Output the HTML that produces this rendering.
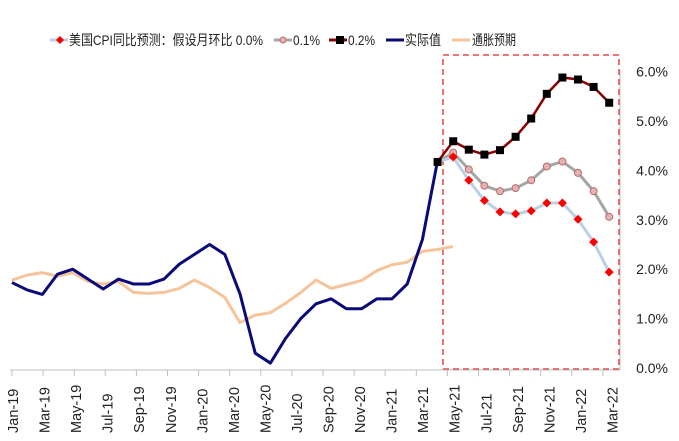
<!DOCTYPE html>
<html><head><meta charset="utf-8"><style>
body{margin:0;background:#fff;}
svg{display:block;font-family:"Liberation Sans","Noto Sans CJK SC",sans-serif;}
</style></head><body>
<svg id="chart" width="679" height="441" viewBox="0 0 679 441">
<g id="legend">
 <g>
  <line x1="50" y1="40" x2="68" y2="40" stroke="#b8cfe6" stroke-width="3"/>
  <polygon points="60,36 64,40 60,44 56,40" fill="#f00"/>
  <text x="69" y="45" font-size="14" fill="#222" textLength="194" lengthAdjust="spacingAndGlyphs">美国CPI同比预测：假设月环比 0.0%</text>
 </g>
 <g>
  <line x1="274" y1="40" x2="292" y2="40" stroke="#a6a6a6" stroke-width="3"/>
  <circle cx="283" cy="40" r="3" fill="#e8b0b0" stroke="#b07070" stroke-width="1"/>
  <text x="293" y="45" font-size="14" fill="#222" textLength="27" lengthAdjust="spacingAndGlyphs">0.1%</text>
 </g>
 <g>
  <line x1="329" y1="40" x2="347" y2="40" stroke="#8b0000" stroke-width="3"/>
  <rect x="336" y="36" width="8" height="8" fill="#000"/>
  <text x="348" y="45" font-size="14" fill="#222" textLength="27" lengthAdjust="spacingAndGlyphs">0.2%</text>
 </g>
 <g>
  <line x1="386" y1="40" x2="404" y2="40" stroke="#0a0a78" stroke-width="3"/>
  <text x="405" y="45" font-size="14" fill="#222" textLength="36" lengthAdjust="spacingAndGlyphs">实际值</text>
 </g>
 <g>
  <line x1="452" y1="40" x2="470" y2="40" stroke="#f6c49a" stroke-width="3"/>
  <text x="472" y="45" font-size="14" fill="#222" textLength="44" lengthAdjust="spacingAndGlyphs">通胀预期</text>
 </g>
</g>
<rect x="443" y="55" width="176" height="314" fill="none" stroke="#e8242b" stroke-width="1.3" stroke-dasharray="6,4"/>
<line x1="10" y1="370" x2="620" y2="370" stroke="#bfbfbf"/>
<line x1="620" y1="70" x2="620" y2="370" stroke="#bfbfbf"/>
<g id="xticks"></g><g id="yticks"></g><g id="series"></g>
</svg>
<script>
const xLabels=["Jan-19","Mar-19","May-19","Jul-19","Sep-19","Nov-19","Jan-20","Mar-20","May-20","Jul-20","Sep-20","Nov-20","Jan-21","Mar-21","May-21","Jul-21","Sep-21","Nov-21","Jan-22","Mar-22"];
const yTicks=[0,1,2,3,4,5,6];
const actual=[1.73,1.58,1.49,1.9,2.0,1.8,1.6,1.8,1.7,1.7,1.8,2.1,2.3,2.5,2.3,1.5,0.3,0.1,0.6,1.0,1.3,1.4,1.2,1.2,1.4,1.4,1.7,2.6,4.2];
const expectation=[1.78,1.88,1.93,1.86,1.93,1.75,1.7,1.75,1.53,1.51,1.53,1.61,1.78,1.63,1.43,0.92,1.07,1.12,1.31,1.53,1.78,1.61,1.69,1.77,1.97,2.09,2.14,2.36,2.4,2.46];
const fc0=[4.17,4.27,3.8,3.39,3.16,3.12,3.18,3.34,3.34,3.01,2.55,1.94];
const fc1=[4.17,4.36,4.02,3.69,3.58,3.64,3.8,4.08,4.18,3.95,3.58,3.06];
const fc2=[4.17,4.59,4.42,4.32,4.41,4.68,5.05,5.55,5.88,5.84,5.69,5.37];
const NS="http://www.w3.org/2000/svg";
const X=i=>12+i*15.2;
const XF=j=>X(28)+j*15.6;
const Y=v=>368-v*49.4;
function mk(tag,attrs,parent){const e=document.createElementNS(NS,tag);for(const k in attrs)e.setAttribute(k,attrs[k]);parent.appendChild(e);return e;}
const xt=document.getElementById('xticks');
xLabels.forEach((l,k)=>{
 const tx=12+k*31.1;
 const t=mk('line',{x1:tx,y1:370,x2:tx,y2:376,stroke:'#bfbfbf'},xt);
 
 
 const x=12+k*31.55+6;
 const tt=mk('text',{x:x,y:433,'font-size':14.5,fill:'#222',transform:`rotate(-90 ${x} 433)`},xt);
 tt.textContent=l;
 
 
});
const yt=document.getElementById('yticks');
yTicks.forEach(v=>{
 const t=mk('text',{x:668,y:Y(v)+5,'font-size':14,fill:'#222','text-anchor':'end'},yt);
 t.textContent=v.toFixed(1)+'%';
 
 
});
const sg=document.getElementById('series');
function line(arr,xf,color,w,name){
 const p=mk('polyline',{points:arr.map((v,i)=>xf(i)+','+Y(v)).join(' '),fill:'none',stroke:color,'stroke-width':w,'stroke-linejoin':'round'},sg);
 
 
}
line(expectation,X,'#f6c49a',3,'expectation-line');
line(fc1,XF,'#a6a6a6',3,'forecast-0.1-line');
line(fc0,XF,'#b8cfe6',3,'forecast-0.0-line');
line(fc2,XF,'#8b0000',2.5,'forecast-0.2-line');
line(actual,X,'#0a0a78',3,'actual-line');
fc2.forEach((v,i)=>{const r=mk('rect',{x:XF(i)-4,y:Y(v)-4,width:8,height:8,fill:'#000'},sg);
 
 });
fc1.forEach((v,i)=>{if(i==0)return;const c=mk('circle',{cx:XF(i),cy:Y(v),r:3.5,fill:'#e8b0b0',stroke:'#b07070'},sg);
 
 });
fc0.forEach((v,i)=>{if(i==0)return;const x=XF(i),y=Y(v);const d=mk('polygon',{points:`${x},${y-4.5} ${x+4.5},${y} ${x},${y+4.5} ${x-4.5},${y}`,fill:'#f00'},sg);
 
 });
</script>
</body></html>
